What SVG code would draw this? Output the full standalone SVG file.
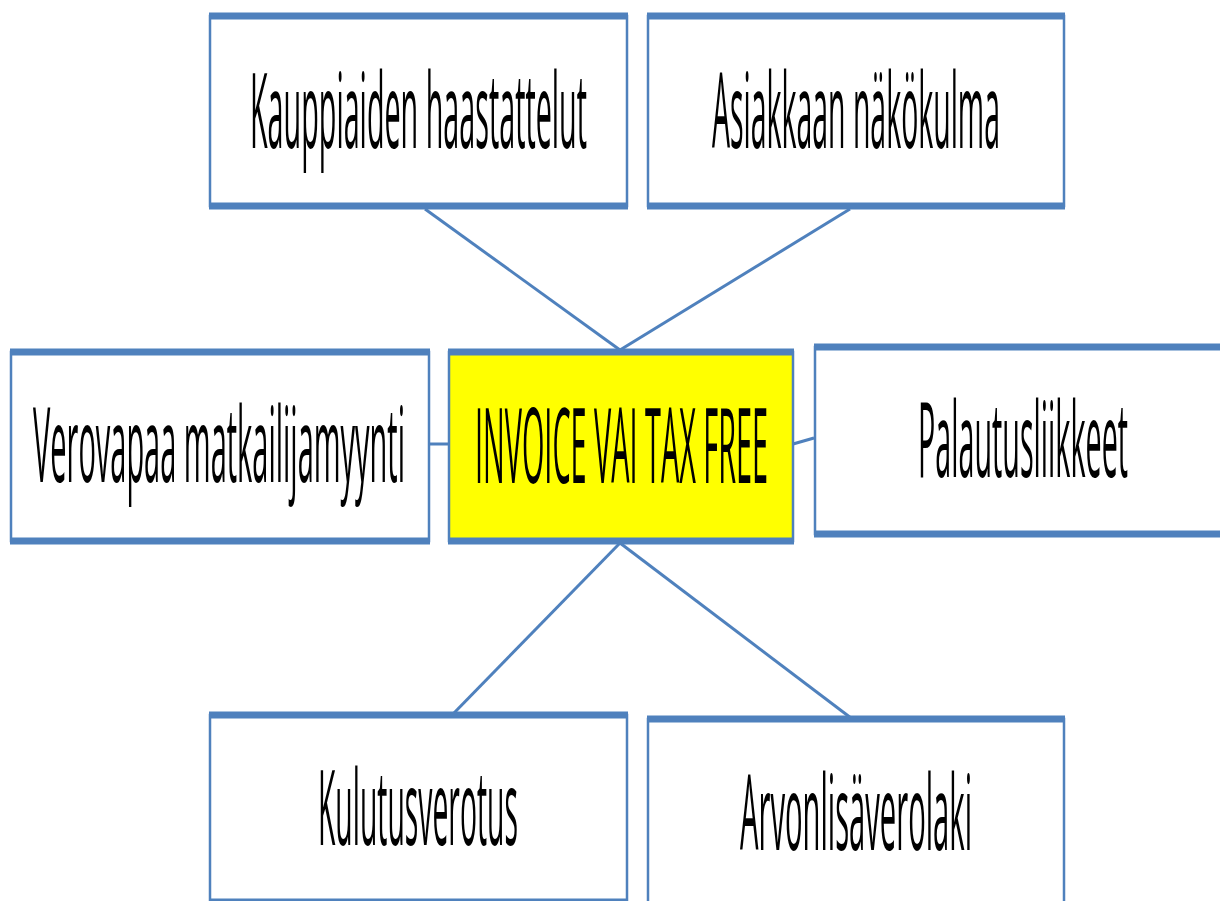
<svg xmlns="http://www.w3.org/2000/svg" width="1220" height="901" viewBox="0 0 1220 901">
<style>
.box{fill:#ffffff;stroke:#4F81BD;stroke-width:2.5}
.center{fill:#ffff00;stroke:#4F81BD;stroke-width:2.5}
.band{stroke:#4F81BD;stroke-width:7;stroke-linecap:butt}
.lbl{font-family:"Open Sans","Liberation Sans",sans-serif;font-size:27px;fill:#000000}
.conn{stroke:#4F81BD;stroke-width:3;fill:none}
</style>
<rect width="1220" height="901" fill="#ffffff"/>
<g id="connectors">
<line class="conn" x1="620" y1="350" x2="425" y2="209"/>
<line class="conn" x1="620" y1="350" x2="850" y2="209"/>
<line class="conn" x1="620" y1="543" x2="453" y2="714"/>
<line class="conn" x1="620" y1="543" x2="851" y2="718"/>
<line class="conn" x1="429" y1="444" x2="448" y2="444"/>
<line class="conn" x1="793" y1="444" x2="814" y2="438"/>
</g>
<g id="n1">
<rect class="box" x="210" y="16" width="417" height="190"/>
<line class="band" x1="209" y1="16" x2="628" y2="16"/>
<line class="band" x1="209" y1="206" x2="628" y2="206"/>
<text class="lbl" transform="translate(250,148) scale(1,3.85)" textLength="337" lengthAdjust="spacingAndGlyphs">Kauppiaiden haastattelut</text>
</g>
<g id="n2">
<rect class="box" x="648" y="16" width="416" height="190"/>
<line class="band" x1="647" y1="16" x2="1065" y2="16"/>
<line class="band" x1="647" y1="206" x2="1065" y2="206"/>
<text class="lbl" transform="translate(712,148) scale(1,3.85)" textLength="288" lengthAdjust="spacingAndGlyphs">Asiakkaan näkökulma</text>
</g>
<g id="n3">
<rect class="box" x="11" y="352" width="418" height="189"/>
<line class="band" x1="10" y1="352" x2="430" y2="352"/>
<line class="band" x1="10" y1="541" x2="430" y2="541"/>
<text class="lbl" transform="translate(33,482) scale(1,3.85)" textLength="372" lengthAdjust="spacingAndGlyphs">Verovapaa matkailijamyynti</text>
</g>
<g id="center">
<rect class="center" x="449" y="352" width="344" height="189"/>
<line class="band" x1="448" y1="352" x2="794" y2="352"/>
<line class="band" x1="448" y1="541" x2="794" y2="541"/>
<text class="lbl" transform="translate(475,483) scale(1,3.85)" textLength="293" lengthAdjust="spacingAndGlyphs">INVOICE VAI TAX FREE</text>
</g>
<g id="n4">
<rect class="box" x="815" y="347" width="420" height="187"/>
<line class="band" x1="814" y1="347" x2="1230" y2="347"/>
<line class="band" x1="814" y1="534" x2="1230" y2="534"/>
<text class="lbl" transform="translate(918,477) scale(1,3.85)" textLength="210" lengthAdjust="spacingAndGlyphs">Palautusliikkeet</text>
</g>
<g id="n5">
<rect class="box" x="210" y="715" width="417" height="186"/>
<line class="band" x1="209" y1="715" x2="628" y2="715"/>
<line class="band" x1="209" y1="902" x2="628" y2="902"/>
<text class="lbl" transform="translate(318,845) scale(1,3.85)" textLength="200" lengthAdjust="spacingAndGlyphs">Kulutusverotus</text>
</g>
<g id="n6">
<rect class="box" x="648" y="719" width="416" height="200"/>
<line class="band" x1="647" y1="719" x2="1065" y2="719"/>
<text class="lbl" transform="translate(740,850) scale(1,3.85)" textLength="232" lengthAdjust="spacingAndGlyphs">Arvonlisäverolaki</text>
</g>
</svg>
